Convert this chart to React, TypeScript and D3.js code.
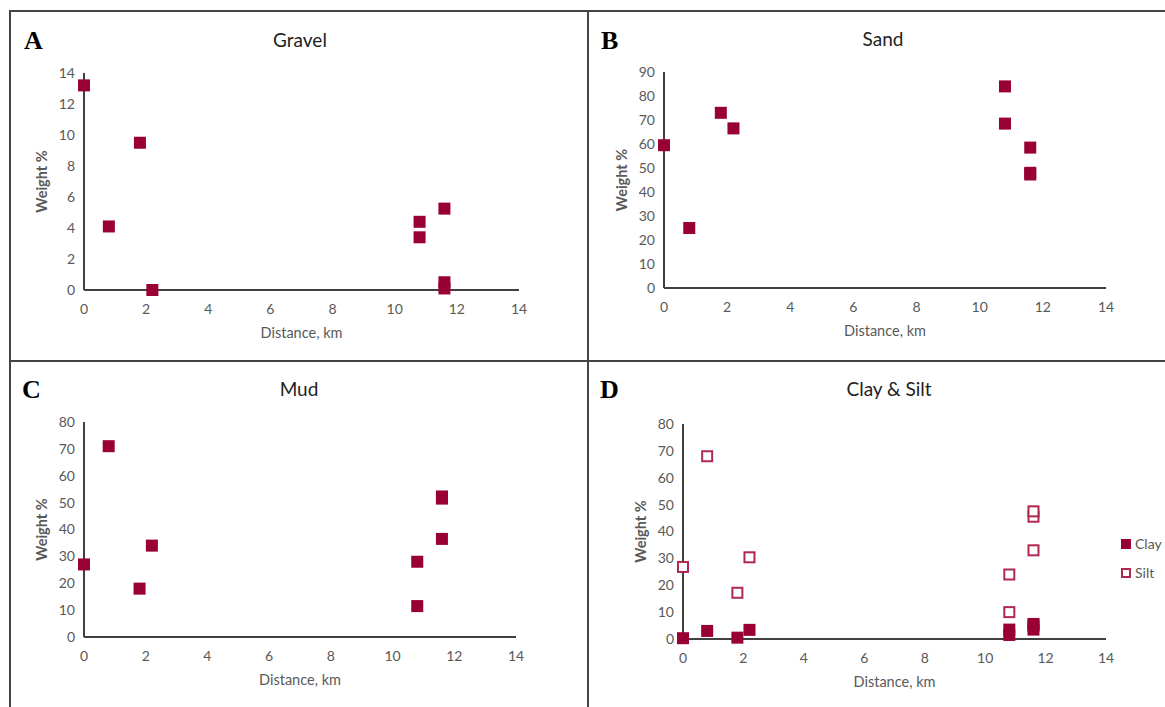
import React from "react";
import * as d3 from "d3";

// ---- Data ----
const distanceKm = [0, 0.8, 1.8, 2.2, 10.8, 10.8, 11.6, 11.6, 11.6];
const gravel = [13.2, 4.1, 9.5, 0, 4.4, 3.4, 5.25, 0.5, 0.1];
const sand = [59.5, 25, 73, 66.5, 84, 68.5, 58.5, 48, 47.3];
const mud = [27, 71, 18, 34, 11.5, 28, 36.5, 51.5, 52.3];
const clay = [0.3, 3, 0.5, 3.4, 1.5, 3.5, 3.5, 5.6, 5];
const silt = [26.8, 68, 17.2, 30.4, 10, 24, 33, 45.5, 47.5];

const xTicks = [0, 2, 4, 6, 8, 10, 12, 14];
const gravelTicks = [0, 2, 4, 6, 8, 10, 12, 14];
const sandTicks = [0, 10, 20, 30, 40, 50, 60, 70, 80, 90];
const mudTicks = [0, 10, 20, 30, 40, 50, 60, 70, 80];

const FILL = "#990033";
const HOLLOW = "#b0284f";
const AXIS = "#404040";
const TICK = "#595959";
const FONT = "Lato, 'Open Sans', sans-serif";

type Series = { name: string; values: number[]; hollow: boolean };
type Panel = {
  letter: string;
  title: string;
  left: number; right: number; top: number; bottom: number; // plot range in px
  yTicks: number[];
  series: Series[];
  legend?: boolean;
  letterX: number; letterY: number;
  titleX: number; titleY: number;
};

const panels: Panel[] = [
  { letter: "A", title: "Gravel", left: 84, right: 519, top: 73, bottom: 290, yTicks: gravelTicks,
    series: [{ name: "Gravel", values: gravel, hollow: false }],
    letterX: 24, letterY: 49, titleX: 300, titleY: 47 },
  { letter: "B", title: "Sand", left: 664, right: 1106, top: 72, bottom: 288, yTicks: sandTicks,
    series: [{ name: "Sand", values: sand, hollow: false }],
    letterX: 601, letterY: 49, titleX: 883, titleY: 46 },
  { letter: "C", title: "Mud", left: 84, right: 516, top: 422, bottom: 637, yTicks: mudTicks,
    series: [{ name: "Mud", values: mud, hollow: false }],
    letterX: 22, letterY: 398, titleX: 299, titleY: 396 },
  { letter: "D", title: "Clay & Silt", left: 683, right: 1106, top: 424, bottom: 639, yTicks: mudTicks,
    series: [
      { name: "Clay", values: clay, hollow: false },
      { name: "Silt", values: silt, hollow: true },
    ],
    legend: true,
    letterX: 600, letterY: 398, titleX: 889, titleY: 396 },
];

const MS = 12;

function PanelView({ p }: { p: Panel }) {
  const x = d3.scaleLinear().domain([0, 14]).range([p.left, p.right]);
  const yMax = p.yTicks[p.yTicks.length - 1];
  const y = d3.scaleLinear().domain([0, yMax]).range([p.bottom, p.top]);
  const midX = (p.left + p.right) / 2;
  const midY = (p.top + p.bottom) / 2;
  return (
    <g>
      <text x={p.letterX} y={p.letterY} fontFamily="'Liberation Serif', 'Times New Roman', serif"
        fontWeight="bold" fontSize={26} fill="#000">{p.letter}</text>
      <text x={p.titleX} y={p.titleY} textAnchor="middle" fontFamily={FONT} fontSize={19} fill="#222">{p.title}</text>
      {/* axes */}
      <line x1={x(0)} x2={x(0)} y1={y(yMax)} y2={y(0)} stroke={AXIS} strokeWidth={2} />
      <line x1={x(0)} x2={x(14)} y1={y(0)} y2={y(0)} stroke={AXIS} strokeWidth={2} />
      {p.yTicks.map((t) => (
        <text key={"y" + t} x={x(0) - 9} y={y(t)} dy="0.35em" textAnchor="end" fontFamily={FONT}
          fontSize={14} fill={TICK}>{t}</text>
      ))}
      {xTicks.map((t) => (
        <text key={"x" + t} x={x(t)} y={y(0) + 24} textAnchor="middle" fontFamily={FONT}
          fontSize={14} fill={TICK}>{t}</text>
      ))}
      <text x={midX} y={y(0) + 48} textAnchor="middle" fontFamily={FONT} fontSize={14.5} fill={TICK}>Distance, km</text>
      <text transform={`translate(${x(0) - 42},${midY}) rotate(-90)`} textAnchor="middle" dy="0.35em"
        fontFamily={FONT} fontWeight="bold" fontSize={14.5} fill={TICK}>Weight %</text>
      {p.series.map((s) =>
        s.values.map((v, i) =>
          s.hollow ? (
            <rect key={s.name + i} x={x(distanceKm[i]) - MS / 2 + 1} y={y(v) - MS / 2 + 1}
              width={MS - 2} height={MS - 2} fill="#fff" stroke={HOLLOW} strokeWidth={2} />
          ) : (
            <rect key={s.name + i} x={x(distanceKm[i]) - MS / 2} y={y(v) - MS / 2}
              width={MS} height={MS} fill={FILL} />
          )
        )
      )}
      {p.legend &&
        p.series.map((s, k) => {
          const ly = 544 + k * 29;
          const lx = 1126;
          return (
            <g key={"lg" + s.name}>
              {s.hollow ? (
                <rect x={lx - 4} y={ly - 4} width={8} height={8} fill="#fff" stroke={HOLLOW} strokeWidth={2} />
              ) : (
                <rect x={lx - 5} y={ly - 5} width={10} height={10} fill={FILL} />
              )}
              <text x={lx + 9} y={ly} dy="0.35em" fontFamily={FONT} fontSize={14} fill={TICK}>{s.name}</text>
            </g>
          );
        })}
    </g>
  );
}

export default function App() {
  return (
    <div style={{ position: "absolute", left: 0, top: 0 }}>
      <svg width={1165} height={707} style={{ display: "block", background: "#fff" }}>
        <rect x={0} y={0} width={1165} height={707} fill="#fff" />
        {/* frame */}
        <line x1={10} x2={1165} y1={11} y2={11} stroke="#444" strokeWidth={2} />
        <line x1={10} x2={10} y1={10} y2={707} stroke="#444" strokeWidth={2} />
        <line x1={588} x2={588} y1={10} y2={707} stroke="#444" strokeWidth={2} />
        <line x1={10} x2={1165} y1={361} y2={361} stroke="#444" strokeWidth={2} />
        {panels.map((p) => (
          <PanelView key={p.letter} p={p} />
        ))}
      </svg>
    </div>
  );
}
